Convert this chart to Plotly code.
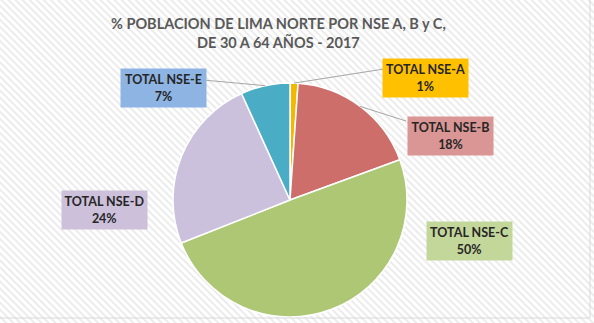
import math
import urllib.parse
import plotly.graph_objects as go

W, H = 594, 323

categories = ["TOTAL NSE-A", "TOTAL NSE-B", "TOTAL NSE-C", "TOTAL NSE-D", "TOTAL NSE-E"]
values = [1.1, 18.3, 49.6, 24.2, 6.8]
slice_colors = ["#F5B800", "#CD6E6B", "#ADC775", "#CCC1DC", "#4BACC6"]
box_colors = ["#FFC000", "#DA9694", "#C4D79B", "#CCC0DA", "#8DB4E2"]
title_lines = ["% POBLACION DE LIMA NORTE POR NSE A, B y C,", "DE 30 A 64 AÑOS - 2017"]

# layout (pixel) settings
cx, cy, r = 290, 200, 117
box_centers = [(425, 78), (450, 136), (469, 241), (104, 210), (163, 87.5)]
leader_ends = {0: (384, 69), 1: (406, 121), 4: (203, 80)}

svg = ('<svg xmlns="http://www.w3.org/2000/svg" width="594" height="323">'
       '<defs><pattern id="p" width="5" height="5" patternUnits="userSpaceOnUse" '
       'patternTransform="rotate(-45)"><rect width="2" height="5" fill="#ececec"/></pattern></defs>'
       '<rect width="594" height="323" fill="#ffffff"/>'
       '<rect width="594" height="323" fill="url(#p)"/></svg>')
bg_uri = "data:image/svg+xml;charset=utf-8," + urllib.parse.quote(svg)

fig = go.Figure()
fig.add_trace(go.Pie(
    labels=categories, values=values, sort=False, direction="clockwise", rotation=0,
    marker=dict(colors=slice_colors, line=dict(color="#FFFFFF", width=1.5)),
    textinfo="none", hoverinfo="label+percent", showlegend=False,
    domain=dict(x=[(cx - r) / W, (cx + r) / W], y=[(H - cy - r) / H, (H - cy + r) / H]),
))

total = sum(values)
pct_texts = [f"{round(v / total * 100)}%" for v in values]

annotations = []
for i, (lab, pt) in enumerate(zip(categories, pct_texts)):
    bx, by = box_centers[i]
    annotations.append(dict(
        x=bx / W, y=1 - by / H, xref="paper", yref="paper", showarrow=False,
        text=f"<b>{lab}<br>{pt}</b>", align="center",
        font=dict(family="Lato", size=12.5, color="#262626"),
        bgcolor=box_colors[i], width=81, height=34, borderpad=2,
        xanchor="center", yanchor="middle",
    ))

annotations.append(dict(
    x=278 / W, y=1 - 32.5 / H, xref="paper", yref="paper", showarrow=False,
    text="<b>" + "<br>".join(title_lines) + "</b>", align="center",
    font=dict(family="Lato", size=14.5, color="#595959"),
    xanchor="center", yanchor="middle",
))

shapes = []
cum = 0
for i, v in enumerate(values):
    mid = (cum + v / 2) / total * 2 * math.pi
    cum += v
    if i in leader_ends:
        px = cx + r * math.sin(mid)
        py = cy - r * math.cos(mid)
        ex, ey = leader_ends[i]
        shapes.append(dict(type="line", xref="paper", yref="paper",
                           x0=px / W, y0=1 - py / H, x1=ex / W, y1=1 - ey / H,
                           line=dict(color="#A6A6A6", width=1)))
shapes.append(dict(type="line", xref="paper", yref="paper", x0=0, x1=590 / W,
                   y0=1 - 318 / H, y1=1 - 318 / H, line=dict(color="#D9D9D9", width=1)))
shapes.append(dict(type="line", xref="paper", yref="paper", x0=590 / W, x1=590 / W,
                   y0=1 - 318 / H, y1=1, line=dict(color="#D9D9D9", width=1)))

fig.update_layout(
    width=W, height=H, margin=dict(l=0, r=0, t=0, b=0),
    paper_bgcolor="#FFFFFF", plot_bgcolor="#FFFFFF",
    annotations=annotations, shapes=shapes,
    images=[dict(source=bg_uri, xref="paper", yref="paper", x=0, y=1, sizex=1, sizey=1,
                 sizing="stretch", layer="below", xanchor="left", yanchor="top")],
)

fig.write_html("out.html")
